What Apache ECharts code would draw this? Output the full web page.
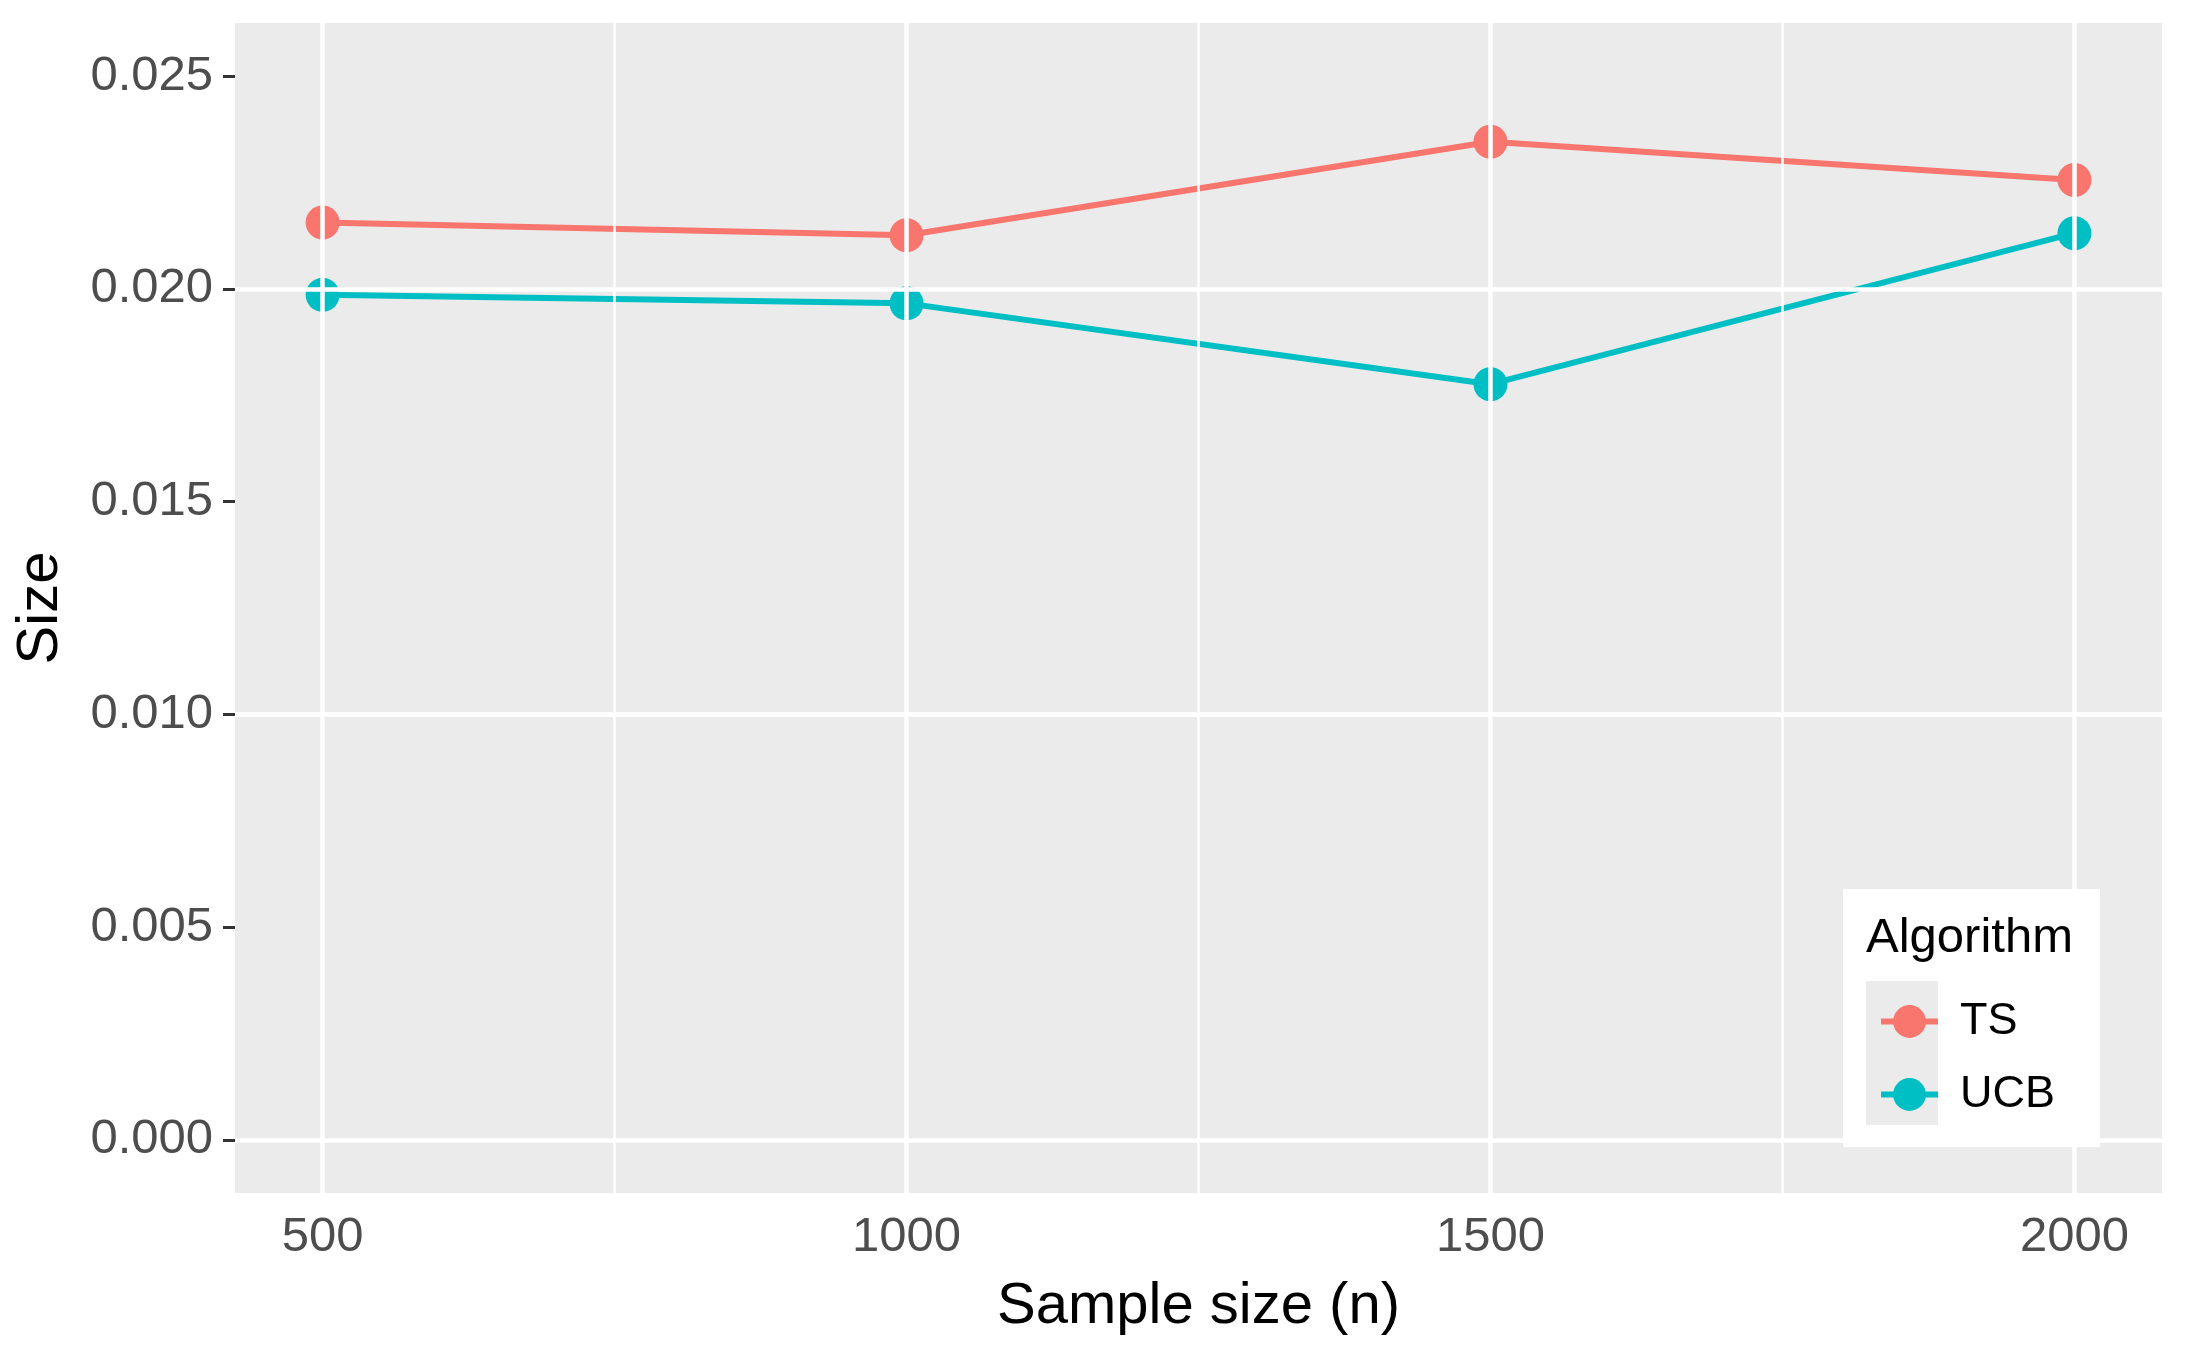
<!DOCTYPE html>
<html>
<head>
    <meta charset="utf-8">
    <title>Size vs sample size</title>
    <script src="https://cdn.jsdelivr.net/npm/echarts@6/dist/echarts.min.js"></script>
    <style>
        html, body { margin: 0; padding: 0; background: #fff; }
    </style>
</head>
<body>
<div id="main" style="width: 2187px;height:1351px;"></div>

<script type="text/javascript">
    // data
    var sampleSizes = [500, 1000, 1500, 2000];
    var tsValues = [0.02156, 0.02126, 0.02346, 0.02256];
    var ucbValues = [0.01986, 0.01966, 0.01776, 0.02131];
    var seriesNames = ['TS', 'UCB'];

    // axis ticks and grid lines
    var xTicks = [500, 1000, 1500, 2000];
    var xMinor = [750, 1250, 1750];
    var yTicks = [0, 0.005, 0.01, 0.015, 0.02, 0.025];
    var yMinor = [0.0025, 0.0075, 0.0125, 0.0175, 0.0225];

    var font = "'Liberation Sans', Arial, sans-serif";

    function pairs(xs, ys) {
        return xs.map(function (x, i) { return [x, ys[i]]; });
    }

    function gridLines(vals, key, width) {
        return vals.map(function (v) {
            var d = {};
            d[key] = v;
            d.lineStyle = { color: '#ffffff', width: width, type: 'solid' };
            return d;
        });
    }

    var myChart = echarts.init(document.getElementById('main'), null, { renderer: 'canvas' });

    var option = {
        backgroundColor: '#ffffff',
        animation: false,
        textStyle: { fontFamily: font },
        grid: {
            left: 235, right: 25, top: 23, bottom: 158,
            show: true, backgroundColor: '#EBEBEB', borderWidth: 0
        },
        xAxis: {
            type: 'value',
            min: 425, max: 2075,
            name: 'Sample size (n)',
            nameLocation: 'middle',
            nameGap: 85,
            nameTextStyle: { fontSize: 58, color: '#000000', fontFamily: font },
            axisLine: { show: false },
            axisTick: { show: true, length: 12, customValues: xTicks, lineStyle: { color: '#333333', width: 3 } },
            axisLabel: {
                margin: 20, fontSize: 49, color: '#4D4D4D', fontFamily: font, customValues: xTicks,
                formatter: function (v) { return String(v); }
            },
            splitLine: { show: false }
        },
        yAxis: {
            type: 'value',
            min: -0.00125, max: 0.02625,
            name: 'Size',
            nameLocation: 'middle',
            nameRotate: 90,
            nameGap: 165,
            nameTextStyle: { fontSize: 58, color: '#000000', fontFamily: font },
            axisLine: { show: false },
            axisTick: { show: true, length: 12, customValues: yTicks, lineStyle: { color: '#333333', width: 3 } },
            axisLabel: {
                margin: 22, fontSize: 49, color: '#4D4D4D', fontFamily: font, customValues: yTicks,
                formatter: function (v) { return v.toFixed(3); }
            },
            splitLine: { show: false }
        },
        legend: {
            orient: 'vertical',
            z: 20,
            left: 1873,
            top: 994,
            itemWidth: 57,
            itemHeight: 41,
            itemGap: 28,
            data: seriesNames,
            lineStyle: { width: 6 },
            textStyle: {
                fontSize: 45, lineHeight: 41, color: '#000000', fontFamily: font,
                padding: [0, 0, 0, 17]
            }
        },
        graphic: [
            {
                type: 'rect', z: 10, silent: true,
                shape: { x: 1843, y: 889, width: 257, height: 258 },
                style: { fill: '#ffffff' }
            },
            {
                type: 'rect', z: 11, silent: true,
                shape: { x: 1866, y: 981, width: 72, height: 144 },
                style: { fill: '#EBEBEB' }
            },
            {
                type: 'text', z: 11, silent: true,
                x: 1866, y: 938,
                style: {
                    text: 'Algorithm', fontSize: 49, fill: '#000000', fontFamily: font,
                    textAlign: 'left', textVerticalAlign: 'middle'
                }
            }
        ],
        series: [
            {
                // panel grid lines
                type: 'line',
                name: 'grid',
                z: 1,
                silent: true,
                data: [],
                markLine: {
                    silent: true,
                    symbol: ['none', 'none'],
                    label: { show: false },
                    animation: false,
                    data: [].concat(
                        gridLines(yMinor, 'yAxis', 2.5),
                        gridLines(xMinor, 'xAxis', 2.5),
                        gridLines(yTicks, 'yAxis', 4.5),
                        gridLines(xTicks, 'xAxis', 4.5)
                    )
                }
            },
            {
                type: 'line',
                name: 'TS',
                z: 3,
                data: pairs(sampleSizes, tsValues),
                symbol: 'circle',
                symbolSize: 34,
                lineStyle: { color: '#F8766D', width: 6 },
                itemStyle: { color: '#F8766D' }
            },
            {
                type: 'line',
                name: 'UCB',
                z: 3,
                data: pairs(sampleSizes, ucbValues),
                symbol: 'circle',
                symbolSize: 34,
                lineStyle: { color: '#00BFC4', width: 6 },
                itemStyle: { color: '#00BFC4' }
            }
        ]
    };

    myChart.setOption(option);
</script>
</body>
</html>
